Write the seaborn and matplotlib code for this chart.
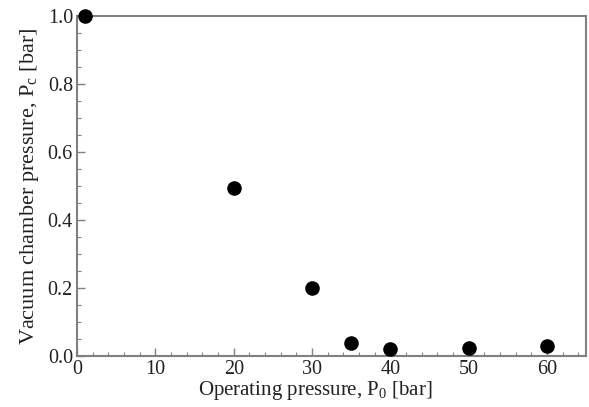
import matplotlib
matplotlib.use("Agg")
import matplotlib.pyplot as plt
import seaborn as sns
import pandas as pd
from matplotlib.ticker import MultipleLocator

operating_pressure = [1, 20, 30, 35, 40, 50, 60]
chamber_pressure = [1.0, 0.495, 0.2, 0.04, 0.02, 0.025, 0.03]

sns.set_style("ticks")
plt.rcParams['font.family'] = ['Liberation Serif', 'DejaVu Serif']
plt.rcParams['mathtext.fontset'] = 'custom'
plt.rcParams['mathtext.rm'] = 'Liberation Serif'
plt.rcParams['mathtext.it'] = 'Liberation Serif:italic'

df = pd.DataFrame({"P0": operating_pressure, "Pc": chamber_pressure})

fig = plt.figure(figsize=(5.89, 4.07), dpi=100)
ax = fig.add_axes([0.131, 0.125, 0.864, 0.836])
sns.scatterplot(data=df, x="P0", y="Pc", ax=ax, color="black", s=110,
                edgecolor="black", linewidth=0, clip_on=False, zorder=5)

ax.set_xlim(0, 65)
ax.set_ylim(0, 1.0)
ax.xaxis.set_major_locator(MultipleLocator(10))
ax.xaxis.set_minor_locator(MultipleLocator(2))
ax.yaxis.set_major_locator(MultipleLocator(0.2))
ax.yaxis.set_minor_locator(MultipleLocator(0.05))
ax.yaxis.set_major_formatter(matplotlib.ticker.FormatStrFormatter('%.1f'))

grey = "#808080"
for sp in ax.spines.values():
    sp.set_color(grey)
    sp.set_linewidth(1.5)
ax.tick_params(which="both", direction="in", color=grey, labelsize=14.5,
               labelcolor="#222222", pad=3)
ax.tick_params(which="major", length=6, width=1)
ax.tick_params(which="minor", length=3, width=0.8)

ax.set_xlabel(r"Operating pressure, P$_\mathrm{0}$ [bar]", fontsize=15, color="#222222",
              labelpad=0, x=0.467)
ax.set_ylabel(r"Vacuum chamber pressure, P$_\mathrm{c}$ [bar]", fontsize=16, color="#222222",
              labelpad=5)

fig.savefig("out.png", dpi=100)
